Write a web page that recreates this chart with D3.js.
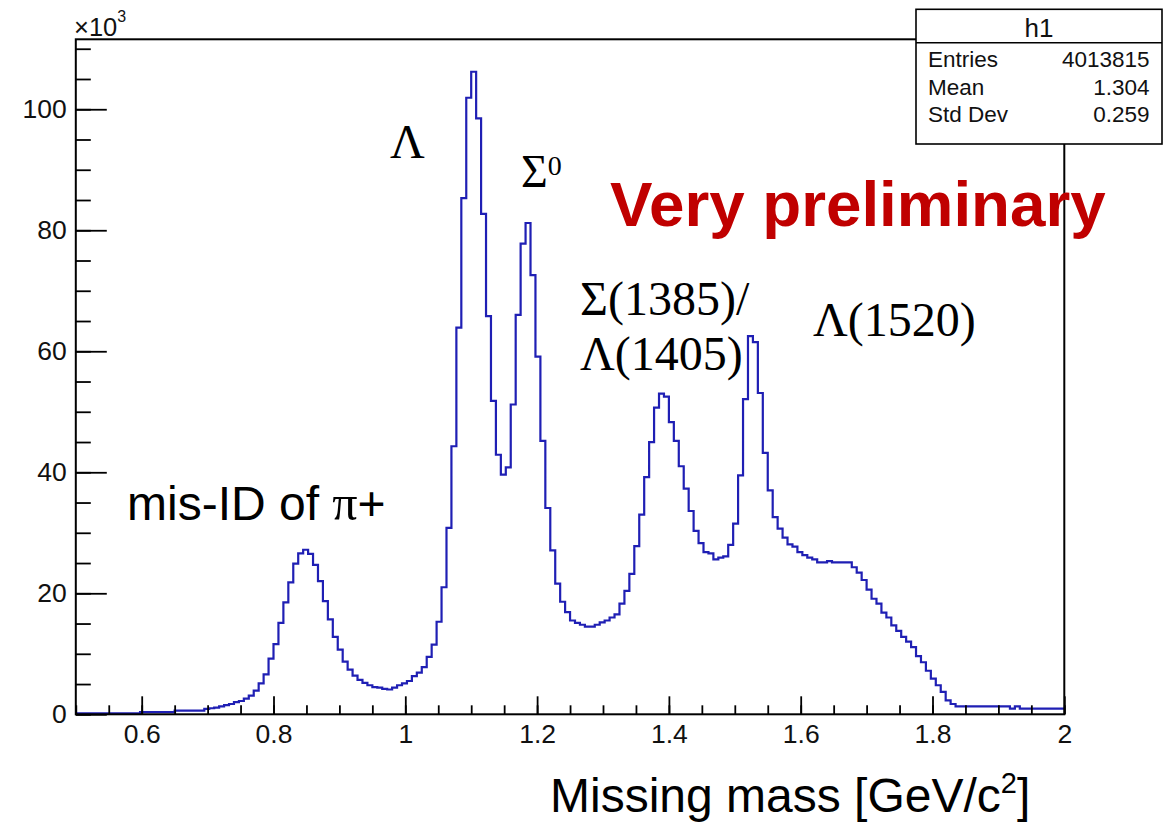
<!DOCTYPE html>
<html><head><meta charset="utf-8">
<script src="https://cdn.jsdelivr.net/npm/d3@7"></script>
<style>html,body{margin:0;padding:0;background:#fff}svg{display:block}</style>
</head><body>
<svg id="c" width="1165" height="824"></svg>
<script>
// ---- data ----
const xRange = [0.5, 2.0];
const nBins = 200;
// bin contents, in units of 10^3 entries
const counts = [
  0.15,0.15,0.15,0.15,0.15,0.15,0.15,0.15,0.15,0.15,0.15,0.15,0.15,
  0.35,0.35,0.35,0.35,0.35,0.35,0.35,
  0.6,0.6,0.6,0.6,0.6,0.6,
  0.9,1.0,1.1,1.3,1.5,1.7,2.0,2.2,2.6,3.1,3.9,
  5.1,6.6,9.2,11.6,15.1,18.5,21.8,24.9,26.6,27.2,26.5,24.7,22.0,18.7,15.7,12.8,10.7,8.7,7.4,6.4,
  5.7,5.2,4.8,4.5,4.4,4.2,4.1,4.4,4.8,5.1,5.5,6.3,6.9,7.8,9.5,11.5,15.3,21.0,30.8,
  44.3,63.9,85.3,101.9,106.2,98.5,82.7,65.8,51.8,42.9,39.6,40.8,51.2,66.0,77.8,81.2,72.6,59.1,45.2,34.1,27.1,21.6,
  18.6,16.9,15.5,15.1,14.8,14.5,14.5,14.8,15.2,15.5,16.0,16.5,18.3,20.4,23.2,27.8,33.0,39.2,45.0,50.7,53.0,52.5,
  48.3,45.2,41.0,37.3,33.6,30.3,28.3,26.8,26.6,25.6,25.9,26.1,28.0,31.5,39.5,52.1,62.5,61.5,53.1,43.2,
  37.0,32.6,30.7,29.2,28.1,27.7,26.8,26.3,25.9,25.6,25.1,25.1,25.3,25.1,25.1,25.1,25.1,24.3,23.4,22.2,
  20.6,19.1,18.3,16.8,16.0,14.7,13.8,12.8,12.0,11.1,9.6,8.6,7.2,5.9,4.8,3.7,2.3,1.7,
  1.3,1.3,1.3,1.3,1.3,1.3,1.3,1.3,1.3,1.3,1.3,
  0.93,1.3,
  0.93,0.93,0.93,0.93,0.93,0.93,0.93,0.93,0.93
];
const xMajorTicks = [0.6, 0.8, 1.0, 1.2, 1.4, 1.6, 1.8, 2.0];
const xMinorTicks = [0.5,0.55,0.6,0.65,0.7,0.75,0.8,0.85,0.9,0.95,1.0,1.05,1.1,1.15,1.2,1.25,1.3,1.35,1.4,1.45,1.5,1.55,1.6,1.65,1.7,1.75,1.8,1.85,1.9,1.95,2.0];
const yMajorTicks = [0, 20, 40, 60, 80, 100];
const yMinorTicks = [0,5,10,15,20,25,30,35,40,45,50,55,60,65,70,75,80,85,90,95,100,105,110];
const yMax = 111.56;
const statsTitle = "h1";
const statsLabels = ["Entries", "Mean", "Std Dev"];
const statsValues = ["4013815", "1.304", "0.259"];
const xTitle = "Missing mass [GeV/c";
const xTitleSup = "2";

// ---- drawing ----
const SANS = "'Liberation Sans', Arial, Helvetica, sans-serif";
const SERIF = "'Liberation Serif', 'Times New Roman', serif";
const svg = d3.select("#c");
const F = {l: 75.8, r: 1064.3, t: 39.3, b: 714.3};
const x = d3.scaleLinear().domain(xRange).range([F.l, F.r]);
const y = d3.scaleLinear().domain([0, yMax]).range([F.b, F.t]);
const bw = (xRange[1] - xRange[0]) / nBins;

svg.append("defs").append("clipPath").attr("id", "clip")
  .append("rect").attr("x", F.l).attr("y", F.t).attr("width", F.r - F.l).attr("height", F.b - F.t);

const pts = counts.map((c, i) => [xRange[0] + i * bw, c]);
pts.push([xRange[1], counts[counts.length - 1]]);
svg.append("path")
  .attr("clip-path", "url(#clip)")
  .attr("d", d3.line().x(d => x(d[0])).y(d => y(d[1])).curve(d3.curveStepAfter)(pts))
  .attr("fill", "none").attr("stroke", "#1f1fb4").attr("stroke-width", 2.2);

function styleAxis(g) {
  g.select(".domain").remove();
  g.selectAll("line").attr("stroke", "#000").attr("stroke-width", 1.8);
  g.attr("font-family", SANS).attr("font-size", 26.5);
  g.selectAll("text").attr("fill", "#111");
}
const fmtX = d => String(+d.toFixed(1));

svg.append("g").attr("transform", `translate(0,${F.b})`)
  .call(d3.axisBottom(x).tickValues(xMinorTicks).tickSize(-9).tickFormat(""))
  .call(styleAxis);
svg.append("g").attr("transform", `translate(0,${F.b})`)
  .call(d3.axisBottom(x).tickValues(xMajorTicks).tickSize(-18).tickPadding(10).tickFormat(fmtX))
  .call(styleAxis);
svg.append("g").attr("transform", `translate(${F.l},0)`)
  .call(d3.axisLeft(y).tickValues(yMinorTicks).tickSize(-15).tickFormat(""))
  .call(styleAxis);
svg.append("g").attr("transform", `translate(${F.l},0)`)
  .call(d3.axisLeft(y).tickValues(yMajorTicks).tickSize(-31).tickPadding(9).tickFormat(d3.format("d")))
  .call(styleAxis);

// frame
svg.append("rect").attr("x", F.l).attr("y", F.t).attr("width", F.r - F.l).attr("height", F.b - F.t)
  .attr("fill", "none").attr("stroke", "#000").attr("stroke-width", 2);

// x10^3
const mult = svg.append("text").attr("x", 74).attr("y", 36).attr("font-family", SANS).attr("font-size", 25.5).attr("fill", "#111");
mult.append("tspan").text("\u00d710");
mult.append("tspan").attr("font-size", 16).attr("dy", -14).text("3");

// stats box
const SB = {x: 916, y: 9.3, w: 246, h: 134.7, div: 42.7};
svg.append("rect").attr("x", SB.x).attr("y", SB.y).attr("width", SB.w).attr("height", SB.h)
  .attr("fill", "#fff").attr("stroke", "#000").attr("stroke-width", 1.6);
svg.append("line").attr("x1", SB.x).attr("x2", SB.x + SB.w).attr("y1", SB.div).attr("y2", SB.div)
  .attr("stroke", "#000").attr("stroke-width", 1.6);
svg.append("text").attr("x", SB.x + SB.w / 2).attr("y", 36.5).attr("text-anchor", "middle")
  .attr("font-family", SANS).attr("font-size", 26).attr("fill", "#111").text(statsTitle);
const rowY = [67.3, 95, 121.7];
statsLabels.forEach((s, i) => {
  svg.append("text").attr("x", 928).attr("y", rowY[i]).attr("font-family", SANS).attr("font-size", 22.5).attr("fill", "#111").text(s);
  svg.append("text").attr("x", 1149.5).attr("y", rowY[i]).attr("text-anchor", "end")
    .attr("font-family", SANS).attr("font-size", 22.5).attr("fill", "#111").text(statsValues[i]);
});

// annotations
function serif(txt, xx, yy, size) {
  return svg.append("text").attr("x", xx).attr("y", yy).attr("font-family", SERIF).attr("font-size", size).text(txt);
}
serif("\u039b", 390, 158, 48);
const s0 = svg.append("text").attr("x", 521).attr("y", 187).attr("font-family", SERIF).attr("font-size", 46);
s0.append("tspan").text("\u03a3");
s0.append("tspan").attr("font-size", 28).attr("dy", -12).text("0");
serif("\u03a3(1385)/", 580, 315, 48);
serif("\u039b(1405)", 580, 370, 48);
serif("\u039b(1520)", 813, 336, 48);

const mis = svg.append("text").attr("x", 127).attr("y", 520).attr("font-family", SANS).attr("font-size", 48);
mis.append("tspan").text("mis-ID of ");
mis.append("tspan").attr("font-family", SERIF).attr("font-size", 50).text("\u03c0");
mis.append("tspan").text("+");

svg.append("text").attr("x", 610).attr("y", 226).attr("font-family", SANS).attr("font-weight", "bold")
  .attr("font-size", 63.7).attr("fill", "#c00000").text("Very preliminary");

// x title
const xt = svg.append("text").attr("x", 550).attr("y", 812).attr("font-family", SANS).attr("font-size", 48);
xt.append("tspan").text(xTitle);
xt.append("tspan").attr("font-size", 29).attr("dy", -19).text(xTitleSup);
xt.append("tspan").attr("dy", 19).text("]");
</script>
</body></html>
